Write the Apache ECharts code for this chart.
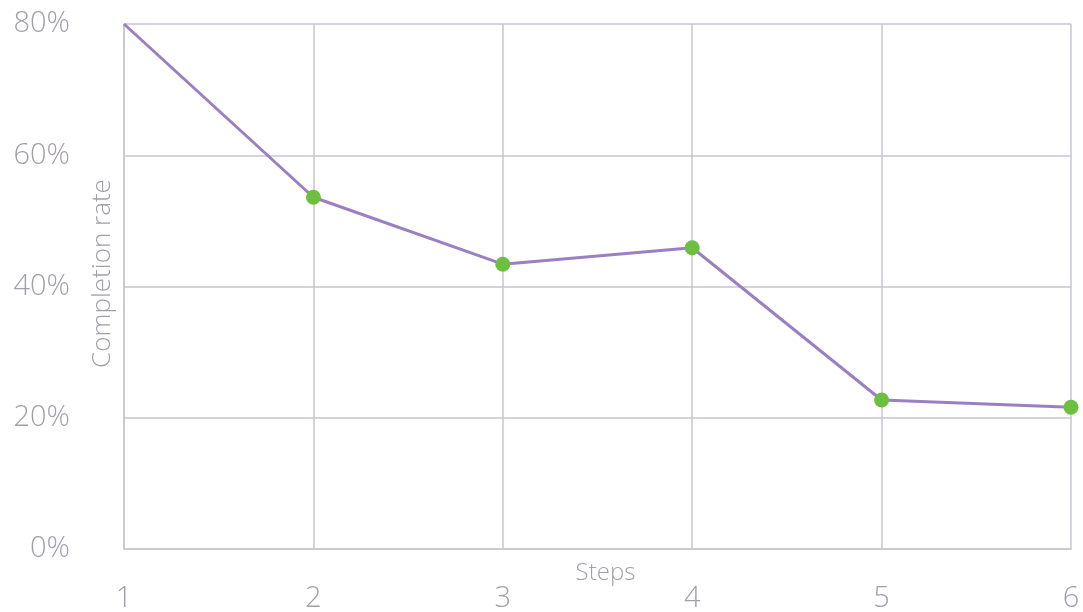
<!DOCTYPE html>
<html><head><meta charset="utf-8">
<script src="https://cdn.jsdelivr.net/npm/echarts@6/dist/echarts.min.js"></script>
<style>html,body{margin:0;padding:0;background:#fff}#c{width:1083px;height:612px}</style>
</head><body><div id="c"></div>
<script>
var steps = ['1','2','3','4','5','6'];
var completionRate = [80, 53.6, 43.4, 45.9, 22.7, 21.6];
var yTicks = [0, 20, 40, 60, 80];

var gridColor = '#c9c5d1';
var textColor = '#a39eab';
var font = 'Open Sans';

var data = completionRate.map(function (v, i) {
  return i === 0 ? { value: v, symbol: 'none' } : v;
});

var chart = echarts.init(document.getElementById('c'));
chart.setOption({
  animation: false,
  grid: { left: 124, right: 12, top: 24, bottom: 63, containLabel: false, outerBoundsMode: 'none' },
  xAxis: {
    type: 'category',
    data: steps,
    boundaryGap: false,
    name: 'Steps',
    nameLocation: 'middle',
    nameGap: 12,
    nameMoveOverlap: false,
    nameTextStyle: { color: textColor, fontSize: 24, fontFamily: font, fontWeight: 300, verticalAlign: 'top', padding: [0, 0, 0, 16] },
    axisLine: { show: true, lineStyle: { color: gridColor, width: 1.5 } },
    axisTick: { show: false },
    axisLabel: { color: textColor, fontSize: 29, fontFamily: font, fontWeight: 300, margin: 35 },
    splitLine: { show: true, lineStyle: { color: gridColor, width: 1.5 } }
  },
  yAxis: {
    type: 'value',
    min: yTicks[0],
    max: yTicks[yTicks.length - 1],
    interval: 20,
    name: 'Completion rate',
    nameLocation: 'middle',
    nameGap: 8,
    nameMoveOverlap: false,
    nameRotate: 90,
    nameTextStyle: { color: textColor, fontSize: 26, fontFamily: font, fontWeight: 300, padding: [0, 0, 0, 26] },
    axisLine: { show: true, lineStyle: { color: gridColor, width: 1.5 } },
    axisTick: { show: false },
    axisLabel: { color: textColor, fontSize: 29, fontFamily: font, fontWeight: 300, margin: 54, formatter: '{value}%' },
    splitLine: { show: true, lineStyle: { color: gridColor, width: 1.5 } }
  },
  series: [{
    type: 'line',
    data: data,
    symbol: 'circle',
    symbolSize: 15,
    showAllSymbol: true,
    lineStyle: { color: '#9a7fc2', width: 3 },
    itemStyle: { color: '#6cbf3f' },
    z: 3
  }]
});
</script></body></html>
